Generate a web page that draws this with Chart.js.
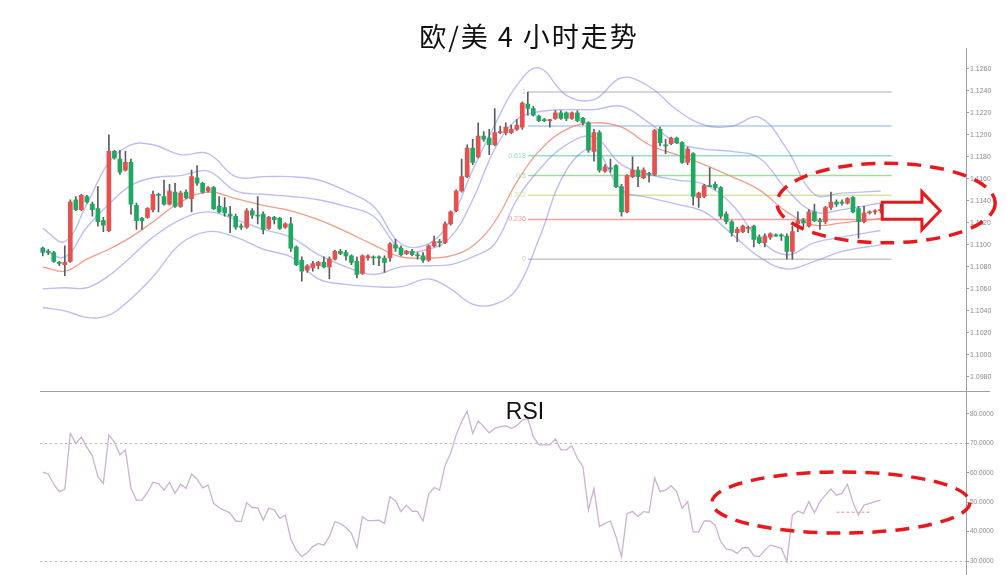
<!DOCTYPE html>
<html>
<head>
<meta charset="utf-8">
<script src="https://cdn.jsdelivr.net/npm/chart.js@4.4.0/dist/chart.umd.min.js"></script>
<style>
  html, body { margin: 0; padding: 0; background: #fff; }
  #wrap { position: relative; width: 1006px; height: 575px; overflow: hidden; }
  canvas { position: absolute; left: 0; }
  #price { top: 0; }
  #rsi { top: 392px; }
</style>
</head>
<body>
<div id="wrap">
  <canvas id="price" width="1006" height="392"></canvas>
  <canvas id="rsi" width="1006" height="183"></canvas>
</div>
<script>
// EUR/USD 4h candles
const opens = [1.1097,1.1094,1.1093,1.1084,1.1082,1.1085,1.1141,1.1132,1.1144,1.1137,1.1133,1.1122,1.1113,1.1185,1.1178,1.1168,1.1175,1.1136,1.1124,1.1125,
  1.1132,1.1146,1.1144,1.1137,1.1148,1.1135,1.1148,1.1142,1.1161,1.1156,1.1149,1.1152,1.1135,1.1134,1.1128,1.1126,1.1117,1.1116,1.1131,1.1127,
  1.1128,1.1115,1.1125,1.1124,1.1116,1.1119,1.1098,1.1086,1.1077,1.1079,1.1081,1.1084,1.1080,1.1087,1.1094,1.1093,1.1090,1.1085,1.1074,1.1088,
  1.1089,1.1089,1.1088,1.1088,1.1100,1.1097,1.1092,1.1094,1.1091,1.1090,1.1086,1.1099,1.1103,1.1102,1.1119,1.1131,1.1149,1.1162,1.1188,1.1180,
  1.1199,1.1197,1.1191,1.1202,1.1202,1.1202,1.1205,1.1207,1.1228,1.1224,1.1217,1.1214,1.1213,1.1215,1.1220,1.1220,1.1215,1.1220,1.1215,1.1211,
  1.1185,1.1202,1.1167,1.1170,1.1172,1.1153,1.1130,1.1162,1.1168,1.1161,1.1165,1.1164,1.1205,1.1191,1.1192,1.1197,1.1193,1.1175,1.1183,1.1143,
  1.1144,1.1154,1.1155,1.1152,1.1128,1.1121,1.1111,1.1112,1.1115,1.1117,1.1107,1.1102,1.1107,1.1109,1.1109,1.1108,1.1094,1.1119,1.1122,1.1117,
  1.1130,1.1122,1.1121,1.1134,1.1139,1.1139,1.1138,1.1143,1.1133,1.1121,1.1129,1.1130,1.1131];
const highs = [1.1098,1.1096,1.1094,1.1085,1.1099,1.1141,1.1144,1.1146,1.1145,1.1139,1.1153,1.1125,1.1200,1.1186,1.1186,1.1185,1.1178,1.1138,1.1125,1.1134,
  1.1149,1.1147,1.1159,1.1155,1.1156,1.1149,1.1150,1.1168,1.1172,1.1157,1.1153,1.1153,1.1144,1.1143,1.1135,1.1128,1.1119,1.1133,1.1133,1.1144,
  1.1130,1.1126,1.1126,1.1125,1.1120,1.1125,1.1099,1.1089,1.1082,1.1085,1.1085,1.1089,1.1089,1.1095,1.1096,1.1095,1.1091,1.1089,1.1091,1.1091,
  1.1090,1.1090,1.1090,1.1102,1.1105,1.1099,1.1095,1.1096,1.1093,1.1093,1.1100,1.1108,1.1105,1.1121,1.1131,1.1150,1.1178,1.1191,1.1196,1.1211,
  1.1203,1.1205,1.1224,1.1208,1.1211,1.1209,1.1214,1.1230,1.1239,1.1226,1.1218,1.1215,1.1214,1.1222,1.1222,1.1221,1.1221,1.1222,1.1216,1.1212,
  1.1205,1.1204,1.1173,1.1178,1.1173,1.1155,1.1164,1.1180,1.1171,1.1170,1.1166,1.1205,1.1207,1.1196,1.1198,1.1198,1.1194,1.1189,1.1184,1.1148,
  1.1155,1.1170,1.1157,1.1153,1.1130,1.1122,1.1116,1.1118,1.1117,1.1118,1.1109,1.1110,1.1111,1.1110,1.1110,1.1110,1.1117,1.1130,1.1124,1.1132,
  1.1137,1.1124,1.1135,1.1148,1.1141,1.1141,1.1143,1.1144,1.1135,1.1135,1.1131,1.1132,1.1137];
const lows = [1.1090,1.1091,1.1084,1.1081,1.1072,1.1084,1.1131,1.1131,1.1138,1.1126,1.1117,1.1112,1.1112,1.1178,1.1164,1.1167,1.1128,1.1114,1.1114,1.1124,
  1.1130,1.1130,1.1136,1.1136,1.1134,1.1134,1.1142,1.1130,1.1154,1.1147,1.1148,1.1132,1.1129,1.1126,1.1111,1.1114,1.1114,1.1115,1.1124,1.1119,
  1.1110,1.1114,1.1119,1.1114,1.1115,1.1094,1.1081,1.1067,1.1075,1.1076,1.1078,1.1079,1.1069,1.1086,1.1091,1.1086,1.1082,1.1070,1.1073,1.1086,
  1.1082,1.1081,1.1075,1.1085,1.1094,1.1090,1.1091,1.1090,1.1087,1.1084,1.1085,1.1098,1.1098,1.1101,1.1118,1.1130,1.1148,1.1161,1.1173,1.1179,
  1.1194,1.1182,1.1190,1.1201,1.1200,1.1201,1.1204,1.1205,1.1218,1.1217,1.1212,1.1212,1.1207,1.1214,1.1214,1.1213,1.1214,1.1212,1.1209,1.1184,
  1.1176,1.1166,1.1166,1.1166,1.1152,1.1126,1.1129,1.1161,1.1153,1.1160,1.1157,1.1163,1.1190,1.1183,1.1191,1.1192,1.1174,1.1173,1.1136,1.1134,
  1.1143,1.1153,1.1150,1.1124,1.1119,1.1108,1.1103,1.1111,1.1111,1.1098,1.1101,1.1098,1.1105,1.1108,1.1104,1.1087,1.1087,1.1112,1.1116,1.1116,
  1.1121,1.1114,1.1119,1.1132,1.1135,1.1136,1.1137,1.1129,1.1106,1.1120,1.1128,1.1128,1.1129];
const closes = [1.1093,1.1093,1.1085,1.1083,1.1084,1.1139,1.1132,1.1145,1.1139,1.1132,1.1121,1.1118,1.1185,1.1179,1.1166,1.1175,1.1137,1.1122,1.1122,1.1133,
  1.1146,1.1145,1.1137,1.1149,1.1135,1.1147,1.1143,1.1162,1.1156,1.1148,1.1152,1.1133,1.1130,1.1129,1.1126,1.1116,1.1116,1.1131,1.1127,1.1126,
  1.1114,1.1125,1.1123,1.1115,1.1119,1.1097,1.1082,1.1076,1.1081,1.1083,1.1084,1.1080,1.1087,1.1094,1.1092,1.1090,1.1084,1.1073,1.1090,1.1090,
  1.1088,1.1088,1.1084,1.1101,1.1097,1.1091,1.1094,1.1091,1.1090,1.1086,1.1099,1.1103,1.1102,1.1119,1.1130,1.1149,1.1162,1.1188,1.1175,1.1199,
  1.1196,1.1191,1.1202,1.1203,1.1207,1.1205,1.1209,1.1229,1.1224,1.1218,1.1213,1.1213,1.1214,1.1220,1.1215,1.1215,1.1220,1.1213,1.1211,1.1186,
  1.1202,1.1168,1.1171,1.1169,1.1153,1.1130,1.1163,1.1168,1.1162,1.1168,1.1164,1.1204,1.1193,1.1190,1.1197,1.1193,1.1175,1.1187,1.1144,1.1147,
  1.1154,1.1153,1.1152,1.1126,1.1121,1.1111,1.1114,1.1117,1.1116,1.1105,1.1102,1.1108,1.1110,1.1108,1.1108,1.1094,1.1112,1.1122,1.1120,1.1130,
  1.1122,1.1121,1.1134,1.1139,1.1137,1.1138,1.1142,1.1130,1.1121,1.1129,1.1130,1.1131,1.1132];

// Bollinger-style envelopes, sampled at these candle positions
const bandIdx = [0,4,8,12,16,20,25,30,35,40,45,50,55,60,65,70,74,78,82,86,90,95,100,105,110,115,120,125,130,135,140,145,152];
const upperOuter = [1.1115,1.1103,1.1137,1.1175,1.1191,1.1191,1.1182,1.1183,1.1162,1.1162,1.1162,1.1159,1.1149,1.1135,1.1101,1.1101,1.1123,1.1168,1.1209,1.1245,
  1.1261,1.1236,1.1232,1.1252,1.1244,1.1223,1.1209,1.1208,1.1216,1.1187,1.1146,1.1147,1.1149];
const upperInner = [1.1096,1.1089,1.1116,1.1137,1.1154,1.1161,1.1163,1.1167,1.1149,1.1146,1.1144,1.1141,1.1135,1.1126,1.1096,1.1096,1.1107,1.1141,1.1187,1.1214,
  1.1221,1.1223,1.1223,1.1226,1.1211,1.1193,1.1187,1.1185,1.1179,1.1150,1.1130,1.1132,1.1138];
const middle = [1.1080,1.1076,1.1087,1.1096,1.1107,1.1121,1.1139,1.1148,1.1142,1.1136,1.1131,1.1123,1.1112,1.1100,1.1089,1.1088,1.1090,1.1099,1.1121,1.1157,
  1.1185,1.1205,1.1211,1.1207,1.1191,1.1182,1.1173,1.1162,1.1150,1.1130,1.1118,1.1120,1.1124];
const lowerInner = [1.1060,1.1061,1.1061,1.1072,1.1089,1.1107,1.1123,1.1130,1.1123,1.1114,1.1107,1.1091,1.1080,1.1073,1.1080,1.1081,1.1082,1.1089,1.1101,1.1141,
  1.1168,1.1191,1.1198,1.1173,1.1164,1.1159,1.1155,1.1137,1.1105,1.1091,1.1102,1.1107,1.1113];
const lowerOuter = [1.1043,1.1040,1.1034,1.1036,1.1051,1.1071,1.1101,1.1112,1.1107,1.1096,1.1089,1.1069,1.1064,1.1062,1.1062,1.1069,1.1060,1.1046,1.1046,1.1060,
  1.1105,1.1168,1.1187,1.1150,1.1143,1.1137,1.1130,1.1110,1.1089,1.1078,1.1085,1.1094,1.1100];

// Fibonacci retracement
const fibPrices = [1.1087, 1.1123, 1.1145, 1.1163, 1.1181, 1.1208, 1.1239];
const fibNames = ['0', '0.236', '0.382', '0.5', '0.618', '', '1'];
const fibColors = ['#c8c8c8', '#f0a09e', '#d8e5a2', '#9cde9c', '#94ddc5', '#afcdee', '#c8c8c8'];
const fibFrom = 88, fibTo = 154;

// RSI, one value per candle
const rsiValues = [60.2,59.6,56.1,53.6,54.4,73.4,70.0,72.1,68.7,65.7,58.7,56.4,72.9,70.4,66.1,67.8,54.7,50.7,50.7,53.3,
  56.8,56.3,54.1,56.8,53.0,56.1,54.7,59.6,57.9,54.9,55.8,49.6,48.1,47.2,46.3,43.6,43.4,49.8,48.2,48.1,
  43.9,47.9,47.4,44.5,45.6,37.5,33.7,31.5,32.9,34.9,36.0,35.4,38.3,43.4,42.7,41.4,39.4,34.5,45.1,43.7,
  43.7,43.9,42.8,51.9,50.4,46.8,49.0,47.0,46.8,43.6,52.7,55.0,54.1,62.6,66.6,72.9,77.4,81.0,73.4,77.6,
  75.7,73.6,75.1,75.7,76.0,75.1,76.0,77.9,78.5,72.3,69.5,69.5,69.5,71.5,67.8,67.8,69.2,64.9,62.1,47.3,
  54.7,41.7,42.8,43.6,38.3,31.5,46.2,46.8,45.1,46.8,46.5,58.3,53.6,54.1,55.6,53.6,47.9,50.2,39.9,39.9,
  43.6,43.6,42.2,36.6,34.1,33.7,32.6,34.5,34.5,31.8,31.5,33.7,35.4,34.9,34.3,29.8,45.6,47.0,46.2,50.2,
  46.4,50.2,52.4,54.5,52.4,53.0,56.1,49.9,45.6,49.0,49.6,50.2,50.7];
const rsiLevels = [70, 30];
const rsiMark = { from: 144, to: 150, value: 46.6 };

const priceTicks = [1.0980,1.1000,1.1020,1.1040,1.1060,1.1080,1.1100,1.1120,1.1140,1.1160,1.1180,1.1200,1.1220,1.1240,1.1260];
const rsiTicks = [30, 40, 50, 60, 70, 80];

// annotation shapes, in data units
const priceEllipse = { x: 153, y: 1.1138, rx: 19.8, ry: 0.00362 };
const priceArrow = { x0: 152.3, xHead: 159.5, xTip: 162.8, y: 1.1131, shaft: 0.00077, head: 0.00172 };
const rsiEllipse = { x: 144.8, y: 49.9, rx: 23.4, ry: 10.4 };

const slots = 168;
const labels = Array.from({ length: slots }, (_, i) => i);

const UP = '#e4514f';
const DOWN = '#1fa862';
const RED = '#e8191c';
const BAND = 'rgba(125,125,235,0.5)';
const candleColors = closes.map((c, i) => c >= opens[i] ? UP : DOWN);
const bandPoints = vals => vals.map((v, k) => ({ x: bandIdx[k], y: v }));

function rightAxis(min, max, ticks, fontSize) {
  return {
    position: 'right', min, max,
    afterBuildTicks: s => { s.ticks = ticks.map(v => ({ value: v })); },
    afterFit: s => { s.width = 40; },
    ticks: { font: { size: fontSize, family: 'Liberation Sans' }, color: '#8a8a8a', padding: 1, autoSkip: false,
      callback: v => Number(v).toFixed(4) },
    grid: { drawOnChartArea: false, tickLength: 3, color: '#a0a0a0' },
    border: { display: false }
  };
}

function drawEllipse(chart, e) {
  const { ctx, scales: { x, y } } = chart;
  const cx = x.getPixelForValue(e.x), cy = y.getPixelForValue(e.y);
  const rx = x.getPixelForValue(e.x + e.rx) - cx;
  const ry = y.getPixelForValue(e.y - e.ry) - cy;
  ctx.save();
  ctx.strokeStyle = RED;
  ctx.lineWidth = 3.5;
  ctx.setLineDash([14, 9]);
  ctx.beginPath();
  ctx.ellipse(cx, cy, rx, ry, 0, 0, Math.PI * 2);
  ctx.stroke();
  ctx.restore();
}

const pricePlugin = {
  id: 'priceDecor',
  afterDatasetsDraw(chart) {
    const { ctx, scales: { x, y } } = chart;
    ctx.save();
    ctx.font = '7px "Liberation Sans"';
    ctx.textAlign = 'right';
    ctx.textBaseline = 'middle';
    fibPrices.forEach((p, k) => {
      if (!fibNames[k]) return;
      ctx.fillStyle = fibColors[k];
      ctx.fillText(fibNames[k], x.getPixelForValue(fibFrom) - 2, y.getPixelForValue(p));
    });
    ctx.restore();
  },
  afterDraw(chart) {
    const { ctx, chartArea, scales: { x, y } } = chart;
    ctx.save();
    ctx.strokeStyle = '#a0a0a0';
    ctx.lineWidth = 1;
    ctx.beginPath();
    ctx.moveTo(Math.round(chartArea.right) + 0.5, 48);
    ctx.lineTo(Math.round(chartArea.right) + 0.5, chart.height);
    ctx.moveTo(chartArea.left, chart.height - 0.5);
    ctx.lineTo(990, chart.height - 0.5);
    ctx.stroke();

    ctx.fillStyle = '#111';
    ctx.font = '27px "Noto Sans CJK SC"';
    ctx.letterSpacing = '2px';
    ctx.textAlign = 'center';
    ctx.textBaseline = 'middle';
    ctx.fillText('欧/美 4 小时走势', 529, 37);
    ctx.letterSpacing = '0px';

    drawEllipse(chart, priceEllipse);

    const a = priceArrow;
    const px = v => x.getPixelForValue(v), py = v => y.getPixelForValue(v);
    ctx.beginPath();
    ctx.moveTo(px(a.x0), py(a.y + a.shaft));
    ctx.lineTo(px(a.xHead), py(a.y + a.shaft));
    ctx.lineTo(px(a.xHead), py(a.y + a.head));
    ctx.lineTo(px(a.xTip), py(a.y));
    ctx.lineTo(px(a.xHead), py(a.y - a.head));
    ctx.lineTo(px(a.xHead), py(a.y - a.shaft));
    ctx.lineTo(px(a.x0), py(a.y - a.shaft));
    ctx.closePath();
    ctx.fillStyle = '#fff';
    ctx.fill();
    ctx.setLineDash([]);
    ctx.lineWidth = 3;
    ctx.strokeStyle = RED;
    ctx.stroke();
    ctx.restore();
  }
};

const bandStyle = (color, width) => ({
  type: 'line', borderColor: color, borderWidth: width, pointRadius: 0, tension: 0.4, fill: false, order: 3
});

const priceDatasets = [
  { type: 'bar', data: opens.map((o, i) => [o, closes[i]]), backgroundColor: candleColors,
    barThickness: 4, grouped: false, minBarLength: 1, borderWidth: 0, order: 0 },
  { type: 'bar', data: lows.map((l, i) => [l, highs[i]]), backgroundColor: '#5c5c5c',
    barThickness: 1, grouped: false, borderWidth: 0, order: 1 },
  { ...bandStyle(BAND, 1.4), data: bandPoints(upperOuter) },
  { ...bandStyle(BAND, 1.4), data: bandPoints(upperInner) },
  { ...bandStyle('rgba(240,140,118,0.85)', 1.3), data: bandPoints(middle) },
  { ...bandStyle(BAND, 1.4), data: bandPoints(lowerInner) },
  { ...bandStyle(BAND, 1.4), data: bandPoints(lowerOuter) },
  ...fibPrices.map((p, k) => ({
    type: 'line', data: [{ x: fibFrom, y: p }, { x: fibTo, y: p }], borderColor: fibColors[k],
    borderWidth: 1.5, pointRadius: 0, order: 5
  }))
];

new Chart(document.getElementById('price'), {
  type: 'bar',
  data: { labels, datasets: priceDatasets },
  options: {
    responsive: false, animation: false, devicePixelRatio: 1,
    layout: { padding: { left: 40, right: 0, top: 50, bottom: 3 } },
    plugins: { legend: { display: false }, tooltip: { enabled: false }, title: { display: false } },
    scales: {
      x: { type: 'category', offset: true, display: false },
      y: rightAxis(1.09709, 1.12772, priceTicks, 7)
    }
  },
  plugins: [pricePlugin]
});

const rsiPlugin = {
  id: 'rsiDecor',
  beforeDatasetsDraw(chart) {
    const { ctx, chartArea, scales: { y } } = chart;
    ctx.save();
    ctx.strokeStyle = '#b8b8b8';
    ctx.lineWidth = 1;
    ctx.setLineDash([2, 3]);
    rsiLevels.forEach(v => {
      const py = Math.round(y.getPixelForValue(v)) + 0.5;
      ctx.beginPath();
      ctx.moveTo(chartArea.left, py);
      ctx.lineTo(chartArea.right, py);
      ctx.stroke();
    });
    ctx.restore();
  },
  afterDraw(chart) {
    const { ctx, chartArea } = chart;
    ctx.save();
    ctx.strokeStyle = '#a0a0a0';
    ctx.lineWidth = 1;
    ctx.beginPath();
    ctx.moveTo(Math.round(chartArea.right) + 0.5, 0);
    ctx.lineTo(Math.round(chartArea.right) + 0.5, chart.height);
    ctx.stroke();
    ctx.fillStyle = '#111';
    ctx.font = '23px "Liberation Sans"';
    ctx.textAlign = 'center';
    ctx.textBaseline = 'middle';
    ctx.fillText('RSI', 525, 21);
    ctx.restore();
    drawEllipse(chart, rsiEllipse);
  }
};

new Chart(document.getElementById('rsi'), {
  type: 'line',
  data: {
    labels,
    datasets: [
      { data: rsiValues, borderColor: '#ccb2d2', borderWidth: 1.3, pointRadius: 0, tension: 0 },
      { data: [{ x: rsiMark.from, y: rsiMark.value }, { x: rsiMark.to, y: rsiMark.value }],
        borderColor: '#f08a8a', borderWidth: 1, borderDash: [3, 2], pointRadius: 0 }
    ]
  },
  options: {
    responsive: false, animation: false, devicePixelRatio: 1,
    layout: { padding: { left: 40, right: 0, top: 6, bottom: 6 } },
    plugins: { legend: { display: false }, tooltip: { enabled: false } },
    scales: {
      x: { type: 'category', offset: true, display: false },
      y: rightAxis(27.28, 85.44, rsiTicks, 6.5)
    }
  },
  plugins: [rsiPlugin]
});
</script>
</body>
</html>
